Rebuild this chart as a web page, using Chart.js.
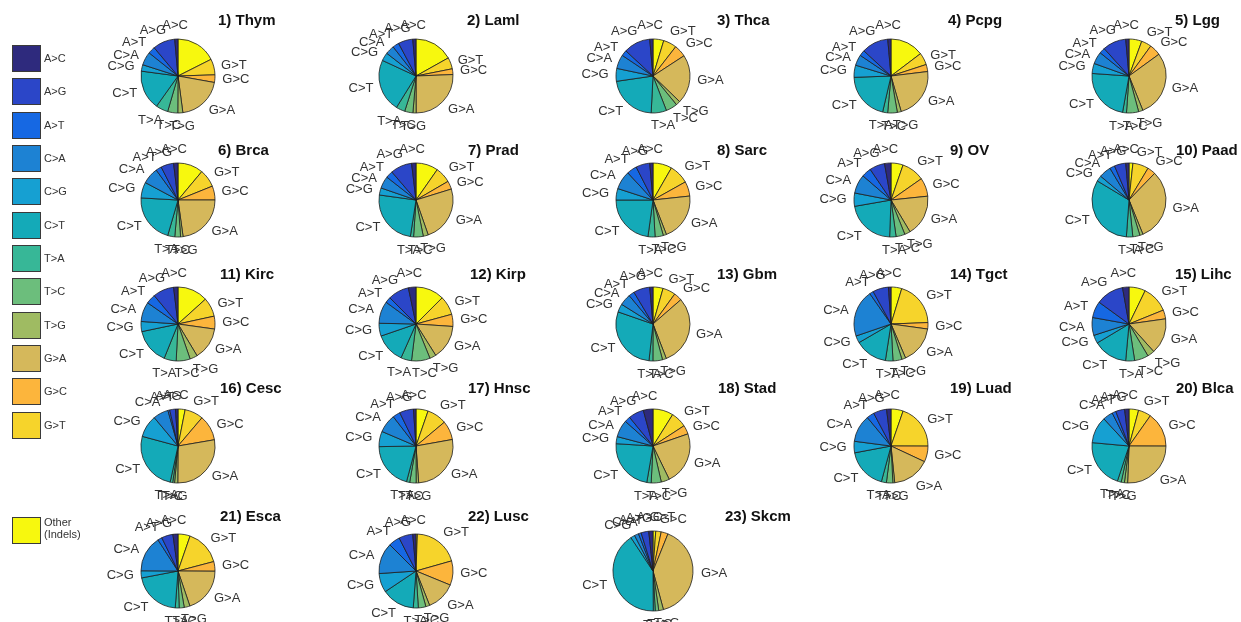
<!DOCTYPE html>
<html>
<head>
<meta charset="utf-8">
<script src="https://cdn.jsdelivr.net/npm/chart.js@4.4.1/dist/chart.umd.min.js"></script>
<style>
  html, body { margin: 0; padding: 0; background: #fff; width: 1241px; height: 622px; overflow: hidden;
    font-family: "Liberation Sans", Arial, sans-serif; }
  #stage { position: relative; width: 1241px; height: 622px; }
  canvas.pie { position: absolute; }
  .ttl { position: absolute; font-weight: bold; font-size: 15px; line-height: 16px; color: #111; white-space: nowrap; }
  .key { position: absolute; left: 12px; width: 29px; height: 27px; border: 1px solid #3a3a3a; box-sizing: border-box; }
  .keylbl { position: absolute; left: 44px; font-size: 11px; line-height: 12px; color: #333; white-space: pre; }
</style>
</head>
<body>
<div id="stage"></div>
<script>
// Substitution classes, in legend order
const mutations = ['A>C', 'A>G', 'A>T', 'C>A', 'C>G', 'C>T', 'T>A', 'T>C', 'T>G', 'G>A', 'G>C', 'G>T', 'Other'];
const legendNames = ['A>C', 'A>G', 'A>T', 'C>A', 'C>G', 'C>T', 'T>A', 'T>C', 'T>G', 'G>A', 'G>C', 'G>T', 'Other\n(Indels)'];
const colors = ['#2e2a7d', '#2b46c8', '#1668e3', '#1d82d3', '#16a0d2', '#14aab8', '#37b797',
                '#6cbe7c', '#9fbb62', '#d5b85b', '#fcb53c', '#f6d42b', '#f7f80e'];

const cancers = ['Thym', 'Laml', 'Thca', 'Pcpg', 'Lgg', 'Brca', 'Prad', 'Sarc', 'OV', 'Paad',
                 'Kirc', 'Kirp', 'Gbm', 'Tgct', 'Lihc', 'Cesc', 'Hnsc', 'Stad', 'Luad', 'Blca',
                 'Esca', 'Lusc', 'Skcm'];

// Share of each class (%), same order as `mutations`
const thym = [1.4, 9.7, 3.1, 5.8, 2.8, 17.2, 5.3, 4.4, 2.2, 20.0, 3.3, 6.9, 17.5];
const laml = [1.4, 6.4, 2.8, 3.9, 3.6, 23.1, 3.9, 3.6, 1.4, 25.6, 2.5, 5.0, 16.9];
const thca = [1.4, 11.7, 2.5, 6.1, 5.6, 21.9, 6.7, 5.0, 1.9, 21.4, 5.3, 5.8, 4.7];
const pcpg = [1.4, 11.7, 2.5, 4.7, 5.3, 20.8, 2.2, 4.2, 1.7, 22.5, 3.1, 5.3, 14.7];
const lgg  = [1.4, 10.3, 2.5, 5.3, 4.4, 23.3, 1.7, 5.3, 1.9, 28.9, 5.0, 4.4, 5.6];
const brca = [1.9, 5.6, 2.5, 7.2, 6.9, 21.4, 3.1, 2.5, 1.1, 22.8, 6.1, 7.8, 11.1];
const prad = [1.9, 9.4, 3.1, 5.3, 3.1, 24.7, 1.4, 4.2, 2.2, 24.4, 3.6, 6.9, 9.7];
const sarc = [1.4, 6.1, 4.4, 8.1, 5.0, 22.8, 3.1, 3.6, 1.4, 20.8, 6.4, 8.6, 8.3];
const ov   = [2.8, 6.7, 4.2, 8.3, 5.8, 21.7, 2.8, 3.9, 2.5, 18.1, 8.1, 10.0, 5.3];
const paad = [1.4, 5.0, 2.2, 5.3, 2.5, 32.5, 2.8, 3.1, 1.4, 31.7, 3.6, 6.9, 1.7];
const kirc = [1.9, 9.2, 4.2, 8.6, 4.4, 15.6, 5.3, 6.1, 3.3, 14.2, 5.6, 8.3, 13.3];
const kirp = [3.3, 9.2, 2.5, 9.7, 5.6, 13.1, 4.7, 8.1, 2.8, 15.0, 5.3, 8.3, 12.5];
const gbm  = [1.4, 7.2, 2.5, 5.0, 3.6, 28.6, 1.7, 4.2, 1.7, 30.6, 3.6, 5.6, 4.4];
const tgct = [1.1, 6.9, 1.7, 20.6, 3.1, 14.2, 3.3, 3.9, 1.7, 16.4, 2.8, 19.7, 4.7];
const lihc = [2.8, 12.2, 7.2, 7.8, 3.6, 15.0, 3.9, 6.1, 3.1, 15.6, 3.9, 11.7, 7.2];
const cesc = [1.1, 2.5, 0.8, 6.7, 9.7, 25.8, 1.1, 0.8, 1.4, 27.8, 11.1, 8.1, 3.1];
const hnsc = [1.1, 6.1, 3.3, 8.1, 6.7, 20.6, 1.4, 2.8, 1.1, 26.7, 8.3, 8.6, 5.3];
const stad = [4.2, 6.7, 2.5, 7.5, 3.1, 23.3, 1.9, 4.4, 3.6, 23.1, 3.9, 6.9, 8.9];
const luad = [1.9, 5.8, 3.3, 11.9, 5.0, 17.8, 2.2, 2.8, 0.8, 16.4, 6.9, 19.7, 5.3];
const blca = [1.9, 3.9, 1.7, 4.4, 11.7, 21.4, 1.7, 1.4, 1.4, 25.6, 15.3, 5.6, 4.2];
const esca = [2.2, 5.0, 1.9, 15.8, 3.1, 20.8, 1.7, 2.2, 2.5, 19.7, 4.2, 15.6, 5.3];
const lusc = [1.4, 6.1, 5.0, 13.6, 8.3, 14.4, 2.2, 3.3, 1.7, 12.8, 10.6, 20.0, 0.6];
const skcm = [1.7, 3.1, 1.1, 1.7, 1.7, 40.8, 0.8, 1.4, 1.9, 39.7, 2.8, 2.2, 1.1];

const shares = [thym, laml, thca, pcpg, lgg, brca, prad, sarc, ov, paad, kirc, kirp, gbm,
                tgct, lihc, cesc, hnsc, stad, luad, blca, esca, lusc, skcm];

// Grid layout: pie centres, radii and title anchors (px)
const colX = [178, 416, 653, 891, 1129];
const rowY = [76, 200, 324, 446, 571];
const titleX = [218, 467, 717, 948, 1175,
                218, 468, 717, 950, 1176,
                220, 470, 717, 950, 1175,
                220, 468, 718, 950, 1176,
                220, 468, 725];
const titleY = [20, 150, 274, 388, 516];

const stage = document.getElementById('stage');
const CW = 236, CH = 124;
const FONT = '"Liberation Sans", Arial, sans-serif';

// Class names placed just outside each wedge, pushed outward by the text box
const sliceNames = {
  id: 'sliceNames',
  afterDatasetsDraw(chart) {
    const ctx = chart.ctx;
    const names = chart.data.labels;
    const meta = chart.getDatasetMeta(0);
    ctx.save();
    ctx.font = '13px ' + FONT;
    ctx.fillStyle = '#333';
    ctx.textAlign = 'center';
    ctx.textBaseline = 'middle';
    meta.data.forEach((arc, i) => {
      if (names[i] === 'Other') return;
      const p = arc.getProps(['x', 'y', 'startAngle', 'endAngle', 'outerRadius'], true);
      const mid = (p.startAngle + p.endAngle) / 2;
      const dx = Math.cos(mid), dy = Math.sin(mid);
      const R = p.outerRadius * 1.2;
      const w = ctx.measureText(names[i]).width, h = 10;
      const ox = Math.max(-1, Math.min(1, dx * 1.6));
      const oy = Math.abs(dy) > 0.5 ? Math.sign(dy) * (Math.abs(dy) - 0.5) * 2 : 0;
      ctx.fillText(names[i], p.x + R * dx + ox * w / 2, p.y + R * dy + oy * (h / 2 + 1));
    });
    ctx.restore();
  }
};

// Wedges run counter-clockwise from the top in legend order, so feed them reversed
const wedgeNames = [...mutations].reverse();
const wedgeColors = [...colors].reverse();

shares.forEach((vals, k) => {
  const cx = colX[k % 5], cy = rowY[Math.floor(k / 5)];
  const radius = k === 22 ? 40 : 37;
  const cv = document.createElement('canvas');
  cv.className = 'pie';
  cv.width = CW; cv.height = CH;
  cv.style.left = (cx - CW / 2) + 'px';
  cv.style.top = (cy - CH / 2) + 'px';
  stage.appendChild(cv);
  new Chart(cv, {
    type: 'pie',
    data: {
      labels: wedgeNames,
      datasets: [{
        data: [...vals].reverse(),
        backgroundColor: wedgeColors,
        borderColor: '#1e1e1e',
        borderWidth: 0.8
      }]
    },
    options: {
      responsive: false,
      animation: false,
      events: [],
      radius: radius,
      layout: { padding: 0 },
      plugins: { legend: { display: false }, tooltip: { enabled: false } }
    },
    plugins: [sliceNames]
  });
  const t = document.createElement('div');
  t.className = 'ttl';
  t.textContent = (k + 1) + ') ' + cancers[k];
  t.style.left = titleX[k] + 'px';
  t.style.top = (titleY[Math.floor(k / 5)] - 8) + 'px';
  stage.appendChild(t);
});

// Colour key down the left edge
const keyTop = [45, 78, 112, 145, 178, 212, 245, 278, 312, 345, 378, 412, 517];
legendNames.forEach((name, i) => {
  const sq = document.createElement('div');
  sq.className = 'key';
  sq.style.top = keyTop[i] + 'px';
  sq.style.background = colors[i];
  stage.appendChild(sq);
  const lb = document.createElement('div');
  lb.className = 'keylbl';
  lb.textContent = name;
  lb.style.top = (i === 12 ? keyTop[i] - 1 : keyTop[i] + 7) + 'px';
  stage.appendChild(lb);
});
</script>
</body>
</html>
